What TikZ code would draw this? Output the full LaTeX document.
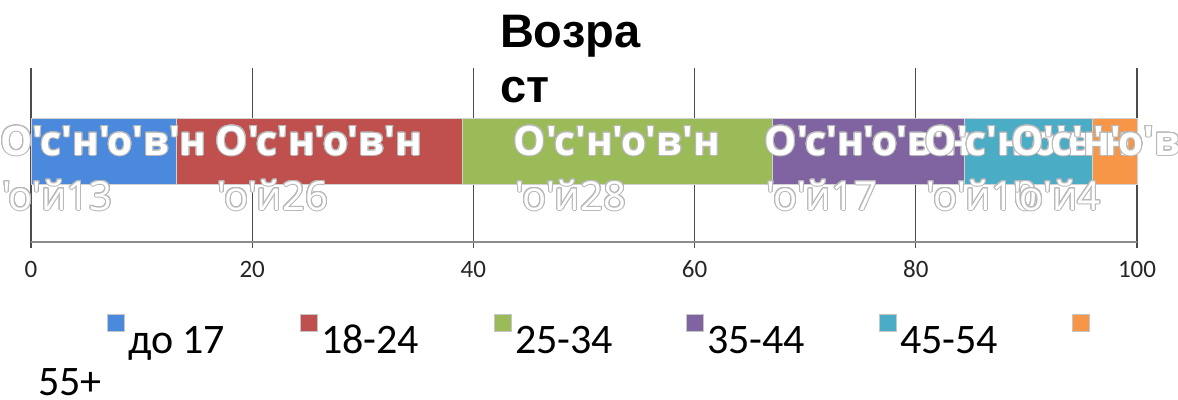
\documentclass[tikz,border=0pt]{standalone}
\usepackage{fontspec}
\usepackage{contour}
\setmainfont{Carlito}
\newfontfamily\titlefont{Liberation Sans}
\newfontfamily\lblfont[Ligatures=TeXOff]{Open Sans}
\definecolor{cBlue}{HTML}{4A89DC}
\definecolor{cRed}{HTML}{C0504D}
\definecolor{cGreen}{HTML}{9BBB59}
\definecolor{cPurple}{HTML}{8064A2}
\definecolor{cCyan}{HTML}{4BACC6}
\definecolor{cOrange}{HTML}{F79646}
\contourlength{1pt}
\contournumber{24}
\tikzset{
  gridln/.style={draw=black!70, line width=1.3pt},
  axisln/.style={draw=black!45, line width=2pt},
  barseg/.style={draw=gray!35, line width=0.8pt},
  ticklbl/.style={font=\fontsize{25}{28}\selectfont, text=black!85},
  lblone/.style={font=\lblfont\bfseries\fontsize{40.5}{44}\selectfont, text=white},
  lbltwo/.style={font=\lblfont\fontsize{40}{44}\selectfont, text=white},
  legsq/.style={draw=gray!45, line width=0.6pt},
  legtxt/.style={font=\fontsize{42}{46}\selectfont, text=black},
  ttl/.style={font=\titlefont\bfseries\fontsize{47}{50}\selectfont, text=black},
  every node/.style={inner sep=0pt, outer sep=0pt}
}
\begin{document}
\begin{tikzpicture}[x=1pt,y=-1pt]
\useasboundingbox (0,0) rectangle (1178,399);
\fill[white] (0,0) rectangle (1178,399);
% gridlines and tick labels
\foreach \v/\x in {0/31,20/252.2,40/473.4,60/694.6,80/915.8,100/1137}{
  \draw[gridln] (\x,68) -- (\x,248);
  \node[ticklbl, anchor=base] (t\v) at (\x,277) {\v};
}
\draw[axisln] (31,242) -- (1137,242);
% bars
\filldraw[barseg, fill=cBlue]   (31,118)   rectangle (176,184);
\filldraw[barseg, fill=cRed]    (176,118)  rectangle (462,184);
\filldraw[barseg, fill=cGreen]  (462,118)  rectangle (772,184);
\filldraw[barseg, fill=cPurple] (772,118)  rectangle (964,184);
\filldraw[barseg, fill=cCyan]   (964,118)  rectangle (1092,184);
\filldraw[barseg, fill=cOrange] (1092,118) rectangle (1137,184);
% labels
\foreach \n/\c/\num in {a/103.5/13, b/319/26, c/617/28, d/868/17, e/1028/10, f/1114.5/4}{
  \node[lblone, anchor=base] (l1\n) at (\c,155) {\contour{gray!55}{О'с'н'о'в'н}};
  \node[lbltwo, anchor=base west] (l2\n) at ([xshift=2pt,yshift=-55pt]l1\n.base west) {\contour{gray!55}{'о'й\num}};
}
% title
\node[ttl, anchor=base west] (ttl1) at (500,47) {Возра};
\node[ttl, anchor=base west] (ttl2) at (500,102) {ст};
% legend
\foreach \n/\x/\col/\t in {a/107/cBlue/до 17, b/300/cRed/18-24, c/494/cGreen/25-34, d/686/cPurple/35-44, e/879/cCyan/45-54}{
  \filldraw[legsq, fill=\col] (\x,314) rectangle ++(17,17);
  \node[legtxt, anchor=base west] (lg\n) at (\x+21,353) {\t};
}
\filldraw[legsq, fill=cOrange] (1072,314) rectangle ++(17,17);
\node[legtxt, anchor=base west] (lgf) at (38,395) {55+};
\end{tikzpicture}
\end{document}
